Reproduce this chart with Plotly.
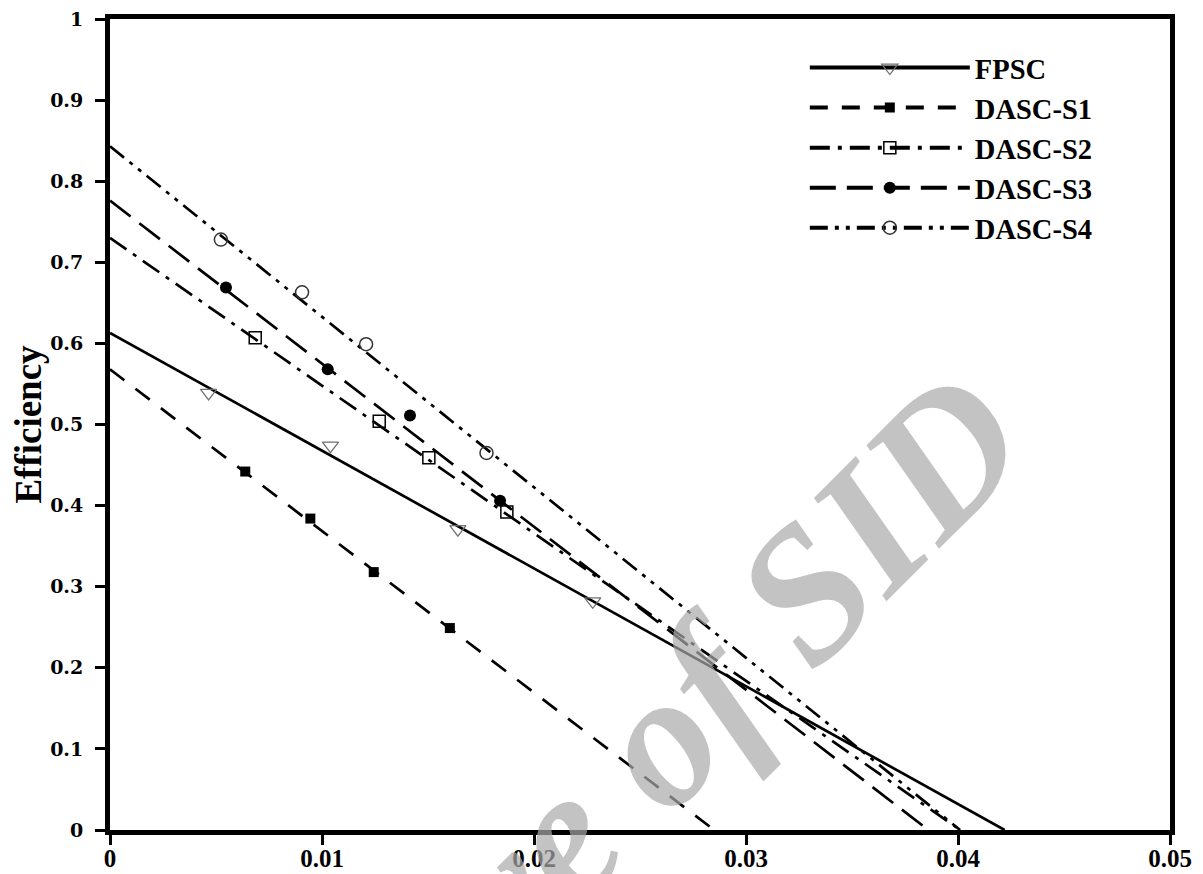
import plotly.graph_objects as go

# ---- data ----
series_names = ["FPSC", "DASC-S1", "DASC-S2", "DASC-S3", "DASC-S4"]

fpsc_x = [0.00465, 0.01040, 0.01641, 0.02277]
fpsc_y = [0.539, 0.474, 0.371, 0.282]

s1_x = [0.00638, 0.00945, 0.01244, 0.01603]
s1_y = [0.442, 0.384, 0.318, 0.249]

s2_x = [0.00685, 0.01270, 0.01504, 0.01872]
s2_y = [0.607, 0.504, 0.459, 0.392]

s3_x = [0.00547, 0.01027, 0.01415, 0.01840]
s3_y = [0.669, 0.568, 0.511, 0.406]

s4_x = [0.00523, 0.00906, 0.01208, 0.01776]
s4_y = [0.728, 0.663, 0.599, 0.465]

# fitted straight lines: efficiency at x=0 and x where efficiency reaches 0
fit_y_at_zero = [0.613, 0.568, 0.730, 0.776, 0.843]
fit_x_at_zero_eff = [0.0422, 0.0285, 0.0401, 0.0386, 0.0401]

x_ticks = [0, 0.01, 0.02, 0.03, 0.04, 0.05]
x_tick_text = ["0", "0.01", "0.02", "0.03", "0.04", "0.05"]
y_ticks = [0, 0.1, 0.2, 0.3, 0.4, 0.5, 0.6, 0.7, 0.8, 0.9, 1]
y_tick_text = ["0", "0.1", "0.2", "0.3", "0.4", "0.5", "0.6", "0.7", "0.8", "0.9", "1"]

# ---- styles ----
dashes = ["solid", "18px,14px", "20px,8px,4px,8px", "26px,11px", "18px,7px,4px,7px,4px,7px"]
markers = [
    dict(symbol="triangle-down-open", size=14, color="#707070", line=dict(width=1.3)),
    dict(symbol="square", size=10, color="black"),
    dict(symbol="square-open", size=12, color="black", line=dict(width=1.5)),
    dict(symbol="circle", size=12, color="black"),
    dict(symbol="circle-open", size=13, color="#333333", line=dict(width=1.5)),
]
pts = [(fpsc_x, fpsc_y), (s1_x, s1_y), (s2_x, s2_y), (s3_x, s3_y), (s4_x, s4_y)]

fig = go.Figure()
for i, name in enumerate(series_names):
    fig.add_trace(go.Scatter(
        x=[0, fit_x_at_zero_eff[i]], y=[fit_y_at_zero[i], 0],
        mode="lines", line=dict(color="black", width=2.7, dash=dashes[i]),
        showlegend=False, hoverinfo="skip", legendgroup=name))
    fig.add_trace(go.Scatter(
        x=pts[i][0], y=pts[i][1], mode="markers", marker=markers[i],
        showlegend=False, legendgroup=name, name=name))
# legend entries (line + marker symbol)
for i, name in enumerate(series_names):
    fig.add_trace(go.Scatter(
        x=[None], y=[None], mode="lines+markers", name=name, legendgroup=name,
        line=dict(color="black", width=4, dash=dashes[i]), marker=markers[i]))

axis_common = dict(
    showline=True, linecolor="black", linewidth=5, mirror=True,
    ticks="outside", ticklen=10, tickwidth=3, tickcolor="black",
    showgrid=False, zeroline=False, automargin=False,
    ticklabeloverflow="allow",
)
fig.update_xaxes(range=[0, 0.05], tickvals=x_ticks, ticktext=x_tick_text,
                 tickfont=dict(family="Liberation Serif", size=25, color="black", weight="bold"),
                 ticklabelstandoff=-8,
                 **axis_common)
fig.update_yaxes(range=[0, 1], tickvals=y_ticks, ticktext=y_tick_text,
                 tickfont=dict(family="DejaVu Serif", size=19, color="black", weight="bold"),
                 ticklabelstandoff=8,
                 title=dict(text="<b>Efficiency</b>", standoff=10,
                            font=dict(family="Liberation Serif", size=37, color="black")),
                 **axis_common)

fig.add_annotation(
    text="<b><i>Archive of SID</i></b>", xref="paper", yref="paper",
    x=0.434, y=0.004, xanchor="center", yanchor="middle", textangle=-45,
    showarrow=False,
    font=dict(family="Liberation Serif", size=190, color="rgba(170,170,170,0.7)"))

fig.update_layout(
    width=1195, height=866,
    margin=dict(l=102, r=33, t=11, b=44),
    plot_bgcolor="white", paper_bgcolor="white",
    font=dict(family="Liberation Serif", color="black"),
    legend=dict(x=0.6555, y=0.971, xanchor="left", yanchor="top",
                font=dict(family="Liberation Serif", size=28.5, color="black", weight="bold"),
                bgcolor="rgba(0,0,0,0)", tracegroupgap=0, itemwidth=160),
)

fig.write_html("out.html")
